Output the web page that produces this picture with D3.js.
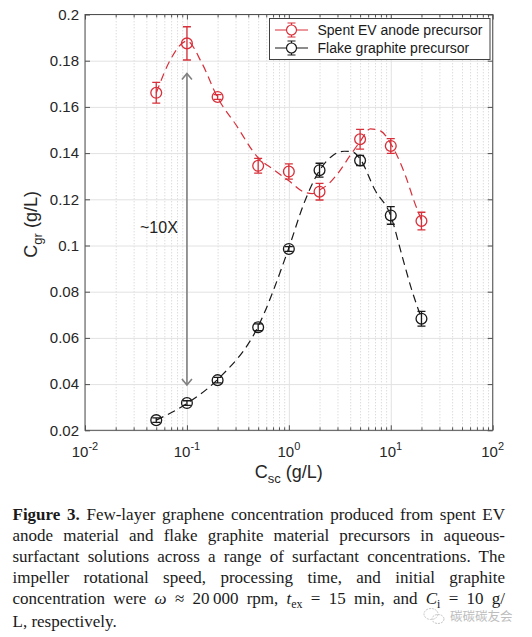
<!DOCTYPE html>
<html lang="en">
<head>
<meta charset="UTF-8">
<title>Figure 3</title>
<script src="https://d3js.org/d3.v7.min.js"></script>
<style>
  body { margin: 0; background: #fff; }
  #wrap { position: relative; width: 532px; height: 637px; }
  svg { display: block; font-family: "Liberation Sans", Arial, sans-serif; }
  .caption {
    position: absolute; left: 12.5px; top: 504px; width: 492.5px;
    font-family: "Liberation Serif", "Times New Roman", serif;
    font-size: 17px; line-height: 21px; color: #1a1a1a;
  }
  .caption div { text-align: justify; text-align-last: justify; white-space: nowrap; }
  .caption div.last { text-align-last: left; }
  .caption .sub { font-size: 70%; position: relative; top: 0.3em; }
</style>
</head>
<body>
<div id="wrap">
  <div id="chart"></div>
  <div class="caption">
    <div><b>Figure 3.</b> Few-layer graphene concentration produced from spent EV</div>
    <div>anode material and flake graphite material precursors in aqueous-</div>
    <div>surfactant solutions across a range of surfactant concentrations. The</div>
    <div>impeller rotational speed, processing time, and initial graphite</div>
    <div>concentration were <i>ω</i> ≈ 20&#8201;000 rpm, <i>t</i><span class="sub">ex</span> = 15 min, and <i>C</i><span class="sub">i</span> = 10 g/</div>
    <div class="last">L, respectively.</div>
  </div>
</div>
<script>
// surfactant concentration (g/L)
const csc = [0.05, 0.1, 0.2, 0.5, 1, 2, 5, 10, 20];

// measured graphene concentration (g/L) and error bars
const spentEV    = [0.1661, 0.1875, 0.1643, 0.1345, 0.1320, 0.1233, 0.1460, 0.1431, 0.1106];
const spentErr   = [0.0045, 0.0072, 0.0010, 0.0032, 0.0033, 0.0036, 0.0043, 0.0032, 0.0038];
const flake      = [0.0244, 0.0318, 0.0417, 0.0646, 0.0985, 0.1326, 0.1368, 0.1130, 0.0683];
const flakeErr   = [0.0010, 0.0010, 0.0012, 0.0015, 0.0010, 0.0030, 0.0022, 0.0038, 0.0032];

// dashed guide curves
const spentFitX = [0.05, 0.07, 0.1, 0.14, 0.2, 0.3, 0.5, 0.7, 1, 1.4, 1.7, 2, 2.5, 3, 4, 5, 6.3, 8, 10, 14, 17, 20];
const spentFitY = [0.166, 0.181, 0.1885, 0.179, 0.164, 0.1525, 0.138, 0.133, 0.128, 0.1232, 0.1225, 0.124, 0.127, 0.131, 0.139, 0.145, 0.1505, 0.1495, 0.144, 0.130, 0.119, 0.111];
const flakeFitX = [0.05, 0.1, 0.2, 0.5, 1, 1.4, 2, 2.7, 3.5, 4.2, 5, 7, 10, 13, 16, 20];
const flakeFitY = [0.0244, 0.0316, 0.042, 0.065, 0.099, 0.118, 0.1325, 0.139, 0.1408, 0.1405, 0.1375, 0.124, 0.1128, 0.095, 0.081, 0.0685];

// axes
const xMajor = [0.01, 0.1, 1, 10, 100];
const xExp = ["-2", "-1", "0", "1", "2"];
const xMinor = [];
[0.01, 0.1, 1, 10].forEach(d => { for (let k = 2; k <= 9; k++) xMinor.push(d * k); });
const yTicks = [0.02, 0.04, 0.06, 0.08, 0.1, 0.12, 0.14, 0.16, 0.18, 0.2];

// annotation
const arrowX = 0.1, arrowTop = 0.1745, arrowBottom = 0.0396;
const legendLabels = ["Spent EV anode precursor", "Flake graphite precursor"];

const red = "#d8303a", black = "#1a1a1a";
const W = 532, H = 637;

const svg = d3.select("#chart").append("svg")
    .attr("width", W)
    .attr("height", H);

const x = d3.scaleLog().domain([0.01, 100]).range([85, 492.7]);
const y = d3.scaleLinear().domain([0.02, 0.2]).range([430.3, 14.5]);
const x0 = x.range()[0], x1 = x.range()[1];
const y0 = y.range()[1], y1 = y.range()[0];

svg.append("rect")
    .attr("x", x0).attr("y", y0)
    .attr("width", x1 - x0).attr("height", y1 - y0)
    .attr("fill", "#fff");

// grids
svg.append("g")
    .attr("transform", `translate(0,${y1})`)
    .call(d3.axisBottom(x).tickValues(xMinor).tickSize(-(y1 - y0)).tickFormat(""))
    .call(g => g.select(".domain").remove())
    .call(g => g.selectAll("line").attr("stroke", "#cdcdcd").attr("stroke-dasharray", "1,2"));

svg.append("g")
    .attr("transform", `translate(0,${y1})`)
    .call(d3.axisBottom(x).tickValues(xMajor).tickSize(-(y1 - y0)).tickFormat(""))
    .call(g => g.select(".domain").remove())
    .call(g => g.selectAll("line").attr("stroke", "#e2e2e2"));

svg.append("g")
    .attr("transform", `translate(${x0},0)`)
    .call(d3.axisLeft(y).tickValues(yTicks).tickSize(-(x1 - x0)).tickFormat(""))
    .call(g => g.select(".domain").remove())
    .call(g => g.selectAll("line").attr("stroke", "#e2e2e2"));

// dashed curves
const line = d3.line()
    .x(d => x(d[0]))
    .y(d => y(d[1]))
    .curve(d3.curveMonotoneX);

svg.append("path")
    .datum(spentFitX.map((d, i) => [d, spentFitY[i]]))
    .attr("fill", "none")
    .attr("stroke", red)
    .attr("stroke-width", 1.2)
    .attr("stroke-dasharray", "8,5")
    .attr("d", line);

svg.append("path")
    .datum(flakeFitX.map((d, i) => [d, flakeFitY[i]]))
    .attr("fill", "none")
    .attr("stroke", black)
    .attr("stroke-width", 1.2)
    .attr("stroke-dasharray", "8,5")
    .attr("d", line);

// arrow
const ax = x(arrowX);
const arrow = svg.append("g").attr("stroke", "#808080").attr("fill", "none").attr("stroke-width", 1.6);
arrow.append("line")
    .attr("x1", ax).attr("x2", ax)
    .attr("y1", y(arrowTop)).attr("y2", y(arrowBottom));
arrow.append("path")
    .attr("d", `M${ax - 5},${y(arrowTop) + 6}L${ax},${y(arrowTop)}L${ax + 5},${y(arrowTop) + 6}`);
arrow.append("path")
    .attr("d", `M${ax - 5},${y(arrowBottom) - 6}L${ax},${y(arrowBottom)}L${ax + 5},${y(arrowBottom) - 6}`);

svg.append("text")
    .attr("x", 140).attr("y", 233)
    .attr("font-size", 16)
    .attr("fill", "#222")
    .text("~10X");

// error bars and markers
function drawSeries(vals, errs, color) {
    const g = svg.append("g").attr("stroke", color).attr("fill", "none").attr("stroke-width", 1.3);
    const pts = csc.map((d, i) => ({ cx: d, cy: vals[i], e: errs[i] }));
    g.selectAll(".err")
        .data(pts)
        .enter().append("path")
        .attr("d", d => {
            const px = x(d.cx), top = y(d.cy + d.e), bot = y(d.cy - d.e);
            return `M${px},${top}L${px},${bot}M${px - 4},${top}L${px + 4},${top}M${px - 4},${bot}L${px + 4},${bot}`;
        });
    g.selectAll("circle")
        .data(pts)
        .enter().append("circle")
        .attr("cx", d => x(d.cx))
        .attr("cy", d => y(d.cy))
        .attr("r", 5.4)
        .attr("fill", "none");
}
drawSeries(spentEV, spentErr, red);
drawSeries(flake, flakeErr, black);

// box and ticks
const axisColor = "#505050";
function styleTicks(g) {
    g.select(".domain").remove();
    g.selectAll("line").attr("stroke", axisColor);
}
svg.append("g").attr("transform", `translate(0,${y1})`)
    .call(d3.axisBottom(x).tickValues(xMinor).tickSize(-3).tickFormat("")).call(styleTicks);
svg.append("g").attr("transform", `translate(0,${y1})`)
    .call(d3.axisBottom(x).tickValues(xMajor).tickSize(-5).tickFormat("")).call(styleTicks);
svg.append("g").attr("transform", `translate(0,${y0})`)
    .call(d3.axisTop(x).tickValues(xMinor).tickSize(-3).tickFormat("")).call(styleTicks);
svg.append("g").attr("transform", `translate(0,${y0})`)
    .call(d3.axisTop(x).tickValues(xMajor).tickSize(-5).tickFormat("")).call(styleTicks);
svg.append("g").attr("transform", `translate(${x1},0)`)
    .call(d3.axisRight(y).tickValues(yTicks).tickSize(-5).tickFormat("")).call(styleTicks);

svg.append("g").attr("transform", `translate(${x0},0)`)
    .call(d3.axisLeft(y).tickValues(yTicks).tickSize(-5).tickPadding(6)
        .tickFormat(d => String(+d.toFixed(2))))
    .call(styleTicks)
    .call(g => g.selectAll("text").attr("font-size", 15).attr("fill", "#262626")
        .attr("font-family", "Liberation Sans, Arial, sans-serif"));

svg.append("rect")
    .attr("x", x0).attr("y", y0)
    .attr("width", x1 - x0).attr("height", y1 - y0)
    .attr("fill", "none")
    .attr("stroke", axisColor);

// x tick labels with exponents
const xl = svg.append("g").attr("font-size", 15).attr("fill", "#262626");
xMajor.forEach((v, i) => {
    const t = xl.append("text").attr("x", x(v)).attr("y", 457).attr("text-anchor", "middle");
    t.append("tspan").text("10");
    t.append("tspan").attr("dy", -7).attr("font-size", 11).text(xExp[i]);
});

// axis titles
const xt = svg.append("text")
    .attr("x", x(1)).attr("y", 478)
    .attr("text-anchor", "middle")
    .attr("font-size", 18).attr("fill", "#262626");
xt.append("tspan").text("C");
xt.append("tspan").attr("dy", 5).attr("font-size", 13).text("sc");
xt.append("tspan").attr("dy", -5).text(" (g/L)");

const yt = svg.append("text")
    .attr("transform", `translate(37,${(y0 + y1) / 2 + 2}) rotate(-90)`)
    .attr("text-anchor", "middle")
    .attr("font-size", 18).attr("fill", "#262626");
yt.append("tspan").text("C");
yt.append("tspan").attr("dy", 5).attr("font-size", 13).text("gr");
yt.append("tspan").attr("dy", -5).text(" (g/L)");

// legend
const lg = svg.append("g");
lg.append("rect")
    .attr("x", 269.5).attr("y", 18.5)
    .attr("width", 220.5).attr("height", 41)
    .attr("fill", "#fff")
    .attr("stroke", "#404040");
[red, black].forEach((c, i) => {
    const ly = 30 + i * 18;
    const g = lg.append("g").attr("stroke", c).attr("fill", "none").attr("stroke-width", 1.2);
    g.append("line").attr("x1", 275).attr("x2", 308).attr("y1", ly).attr("y2", ly);
    g.append("path").attr("d", `M291.5,${ly - 7}L291.5,${ly + 7}M287.5,${ly - 7}L295.5,${ly - 7}M287.5,${ly + 7}L295.5,${ly + 7}`);
    g.append("circle").attr("cx", 291.5).attr("cy", ly).attr("r", 5).attr("fill", "#fff");
    lg.append("text")
        .attr("x", 317.5).attr("y", ly + 5)
        .attr("font-size", 14).attr("fill", "#1a1a1a")
        .text(legendLabels[i]);
});

// watermark
const wm = svg.append("g").attr("opacity", 0.55);
wm.append("ellipse").attr("cx", 431).attr("cy", 614).attr("rx", 7).attr("ry", 5.5)
    .attr("fill", "none").attr("stroke", "#999").attr("stroke-dasharray", "2,1");
wm.append("ellipse").attr("cx", 438).attr("cy", 619).attr("rx", 6).attr("ry", 4.5)
    .attr("fill", "none").attr("stroke", "#999").attr("stroke-dasharray", "2,1");
wm.append("text")
    .attr("x", 450).attr("y", 621)
    .attr("font-family", "Noto Sans CJK SC, sans-serif")
    .attr("font-size", 12.5)
    .attr("fill", "#888")
    .text("碳碳碳友会");
</script>
</body>
</html>
